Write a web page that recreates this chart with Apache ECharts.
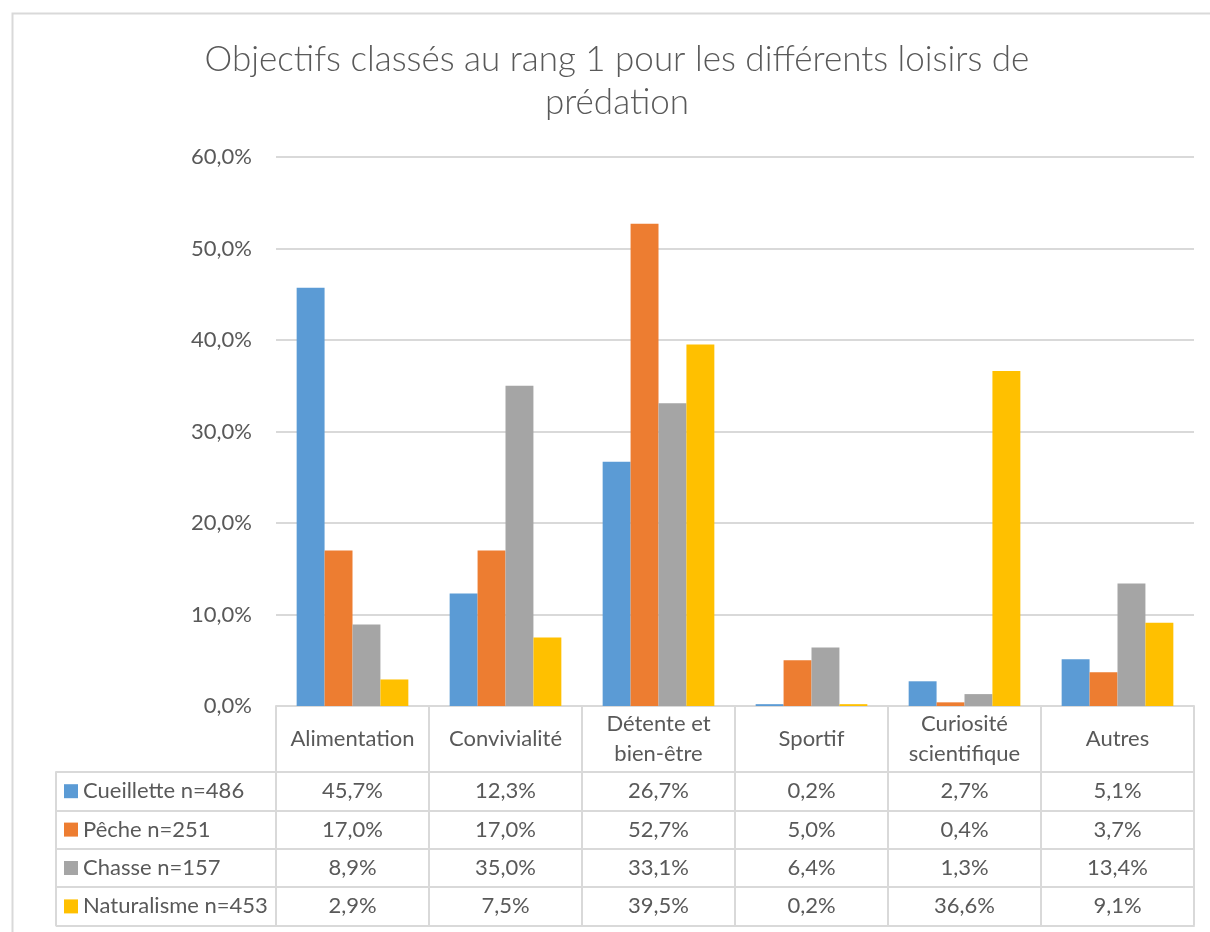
<!DOCTYPE html>
<html>
<head>
<meta charset="utf-8">
<script src="https://cdn.jsdelivr.net/npm/echarts@6/dist/echarts.min.js"></script>
<style>
  html, body { margin: 0; padding: 0; background: #fff; }
  #chart { width: 1210px; height: 932px; }
</style>
</head>
<body>
<div id="chart"></div>
<script>
// Objectives ranked first, per predation hobby (percentages)
const categories = ['Alimentation', 'Convivialité', 'Détente et\nbien-être', 'Sportif', 'Curiosité\nscientifique', 'Autres'];
const seriesNames = ['Cueillette n=486', 'Pêche n=251', 'Chasse n=157', 'Naturalisme n=453'];
const cueillette  = [45.7, 12.3, 26.7, 0.2, 2.7, 5.1];
const peche       = [17.0, 17.0, 52.7, 5.0, 0.4, 3.7];
const chasse      = [8.9, 35.0, 33.1, 6.4, 1.3, 13.4];
const naturalisme = [2.9, 7.5, 39.5, 0.2, 36.6, 9.1];
const yTicks = [0, 10, 20, 30, 40, 50, 60];

const rows = [cueillette, peche, chasse, naturalisme];
const colors = ['#5B9BD5', '#ED7D31', '#A5A5A5', '#FFC000'];

const FONT = 'Lato, "Open Sans", sans-serif';
const TEXT = '#595959';
const LINE = '#D9D9D9';
const FS = 22;
const HEADER_H = 66;
const ROW_H = 38.4;
const LEG_LH = 24;

const pct = v => v.toFixed(1).replace('.', ',') + '%';

const chart = echarts.init(document.getElementById('chart'), null, { renderer: 'canvas' });

// Category header row plus one data-table row per series, each drawn as a category axis
const xAxes = [{
  type: 'category', gridIndex: 0, position: 'bottom', offset: 0,
  data: categories,
  axisLine: { show: true, lineStyle: { color: LINE, width: 2 } },
  axisTick: { show: true, length: HEADER_H, lineStyle: { color: LINE, width: 2 } },
  axisLabel: { interval: 0, margin: HEADER_H / 2, verticalAlign: 'middle', lineHeight: 30,
               fontSize: FS, color: TEXT, fontFamily: FONT }
}];
rows.forEach((vals, i) => {
  xAxes.push({
    type: 'category', gridIndex: 0, position: 'bottom',
    offset: HEADER_H + i * ROW_H,
    data: categories,
    axisLine: { show: true, lineStyle: { color: LINE, width: 2 } },
    axisTick: { show: true, length: ROW_H, lineStyle: { color: LINE, width: 2 } },
    axisLabel: { interval: 0, margin: ROW_H / 2, verticalAlign: 'middle',
                 fontSize: FS, color: TEXT, fontFamily: FONT,
                 formatter: (v, idx) => pct(vals[idx]) }
  });
});
// closing line under the table
xAxes.push({
  type: 'category', gridIndex: 0, position: 'bottom',
  offset: HEADER_H + rows.length * ROW_H,
  data: categories,
  axisLine: { show: true, lineStyle: { color: LINE, width: 2 } },
  axisTick: { show: false }, axisLabel: { show: false }
});
// hidden x axis for the legend-key column
xAxes.push({ type: 'value', gridIndex: 1, show: false });

const option = {
  backgroundColor: '#fff',
  color: colors,
  animation: false,
  title: {
    text: 'Objectifs classés au rang 1 pour les différents loisirs de\nprédation',
    left: 612, top: 33, textAlign: 'center',
    textStyle: { fontFamily: FONT, fontWeight: 300, fontSize: 35, color: TEXT, lineHeight: 43 }
  },
  legend: {
    orient: 'vertical', left: 64, top: 772 + (ROW_H - LEG_LH) / 2,
    padding: 0, itemGap: ROW_H - LEG_LH, itemWidth: 14, itemHeight: 14, icon: 'rect',
    selectedMode: false,
    textStyle: { fontFamily: FONT, fontSize: FS, color: TEXT, lineHeight: LEG_LH, padding: 0 },
    data: seriesNames
  },
  grid: [
    { left: 276, right: 16, top: 157, bottom: 226, containLabel: false },
    { left: 56, width: 220, top: 706 + HEADER_H, height: rows.length * ROW_H, containLabel: false }
  ],
  xAxis: xAxes,
  yAxis: [
    {
      type: 'value', gridIndex: 0, min: yTicks[0], max: yTicks[yTicks.length - 1], interval: 10,
      axisLine: { show: false }, axisTick: { show: false },
      splitLine: { lineStyle: { color: LINE, width: 2 } },
      axisLabel: { formatter: v => pct(v), fontSize: FS, color: TEXT, fontFamily: FONT, margin: 24 }
    },
    {
      type: 'category', gridIndex: 1, inverse: true, data: seriesNames,
      axisLine: { show: true, lineStyle: { color: LINE, width: 2 } },
      axisTick: { show: false }, axisLabel: { show: false },
      splitLine: { show: true, lineStyle: { color: LINE, width: 2 } }
    }
  ],
  graphic: [{
    type: 'rect', left: 10, top: 11, z: -1,
    shape: { width: 1230, height: 960 },
    style: { fill: 'none', stroke: LINE, lineWidth: 2 }
  }],
  series: rows.map((vals, i) => ({
    name: seriesNames[i], type: 'bar', xAxisIndex: 0, yAxisIndex: 0,
    data: vals, barGap: '0%', barCategoryGap: '27%',
    itemStyle: { color: colors[i] }
  }))
};

chart.setOption(option);
</script>
</body>
</html>
